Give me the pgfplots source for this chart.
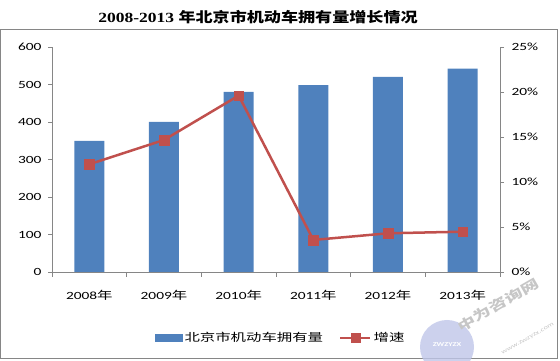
\documentclass[border=0pt]{standalone}
\usepackage{pgfplots}
\pgfplotsset{compat=1.18}
\usepackage{fontspec}
\setmainfont{Carlito}[FakeStretch=1.4]
\newfontfamily\cjk{Noto Sans CJK SC}[FakeStretch=1.4]
\newfontfamily\cjktitle{Noto Sans CJK SC}[FakeStretch=1.22]
\newfontfamily\titleserif{Liberation Serif}[FakeStretch=1.25]
\definecolor{barblue}{HTML}{4F81BD}
\definecolor{linered}{HTML}{C0504D}
\definecolor{axgray}{HTML}{868686}
\begin{document}
\begin{tikzpicture}[x=1pt,y=1pt]
\path[use as bounding box] (0,0) rectangle (560,361);
\draw[axgray, line width=0.9pt] (0.5,2.5) rectangle (557.5,332);
\node[font=\fontsize{14}{16}\selectfont\bfseries, inner sep=0pt] at (258,344) {\titleserif 2008-2013 \cjktitle 年北京市机动车拥有量增长情况};
\begin{axis}[
  at={(52pt,89pt)}, anchor=south west, scale only axis,
  width=448pt, height=225pt,
  xmin=-0.5, xmax=5.5, ymin=0, ymax=600,
  ytick={0,100,...,600},
  xtick={0,...,5},
  xticklabels={2008{\cjk 年},2009{\cjk 年},2010{\cjk 年},2011{\cjk 年},2012{\cjk 年},2013{\cjk 年}},
  minor xtick={-0.5,0.5,...,5.5},
  axis x line*=bottom, axis y line*=left,
  axis line style={axgray, line width=0.8pt},
  tick align=outside,
  major tick length=4pt, minor tick length=5pt,
  major x tick style={draw=none},
  minor x tick style={axgray, line width=0.8pt},
  major y tick style={axgray, line width=0.8pt},
  /pgf/number format/assume math mode=true,
  tick label style={font=\fontsize{11}{13}\selectfont, text=black},
  xticklabel style={yshift=-11pt},
  yticklabel style={xshift=-3pt},
  legend style={at={(0.51,-0.293)}, anchor=center, draw=none, fill=none,
    legend columns=2, font=\cjk\fontsize{11}{13}\selectfont,
    /tikz/every even column/.append style={column sep=14pt}},
]
\addplot[ybar, bar width=30pt, fill=barblue, draw=none,
  legend image code/.code={\fill[barblue] (0pt,-4pt) rectangle (28pt,4pt);}]
  coordinates {(0,349.5) (1,400.5) (2,480.5) (3,498) (4,520) (5,542.5)};
\addlegendentry{北京市机动车拥有量}
\addlegendimage{legend image code/.code={\draw[linered,line width=2.5pt] (0pt,0pt) -- (30pt,0pt); \fill[linered] (10.5pt,-4.5pt) rectangle (19.5pt,4.5pt);}}
\addlegendentry{增速}
\end{axis}
\begin{axis}[
  at={(52pt,89pt)}, anchor=south west, scale only axis,
  width=448pt, height=225pt,
  xmin=-0.5, xmax=5.5, ymin=0, ymax=25,
  ytick={0,5,...,25},
  yticklabel={\pgfmathprintnumber{\tick}\%},
  axis x line=none, axis y line*=right,
  axis line style={axgray, line width=0.8pt},
  tick align=outside, major tick length=4pt,
  major y tick style={axgray, line width=0.8pt},
  /pgf/number format/assume math mode=true,
  tick label style={font=\fontsize{11}{13}\selectfont, text=black},
  yticklabel style={xshift=4pt},
]
\addplot[linered, line width=2.5pt, mark=square*, mark size=4.8pt,
  mark options={solid, fill=linered, draw=linered, line width=0.5pt}]
  coordinates {(0,11.97) (1,14.67) (2,19.6) (3,3.56) (4,4.3) (5,4.48)};
\end{axis}
\begin{scope}
\clip (0,0) rectangle (560,361);
\fill[cyan!35!blue!25, opacity=0.8] (447,14) circle (27);
\node[text=white, font=\fontsize{6}{7}\selectfont\bfseries, inner sep=0pt] at (447,16) {ZWZYZX};
\node[rotate=30, text=gray!45, font=\cjk\fontsize{13}{15}\selectfont\bfseries, inner sep=0pt] at (498,56) {中为咨询网};
\node[rotate=30, text=gray!45, font=\fontsize{6}{7}\selectfont, inner sep=0pt] at (528,22) {www.zwzyzx.com};
\end{scope}
\end{tikzpicture}
\end{document}
